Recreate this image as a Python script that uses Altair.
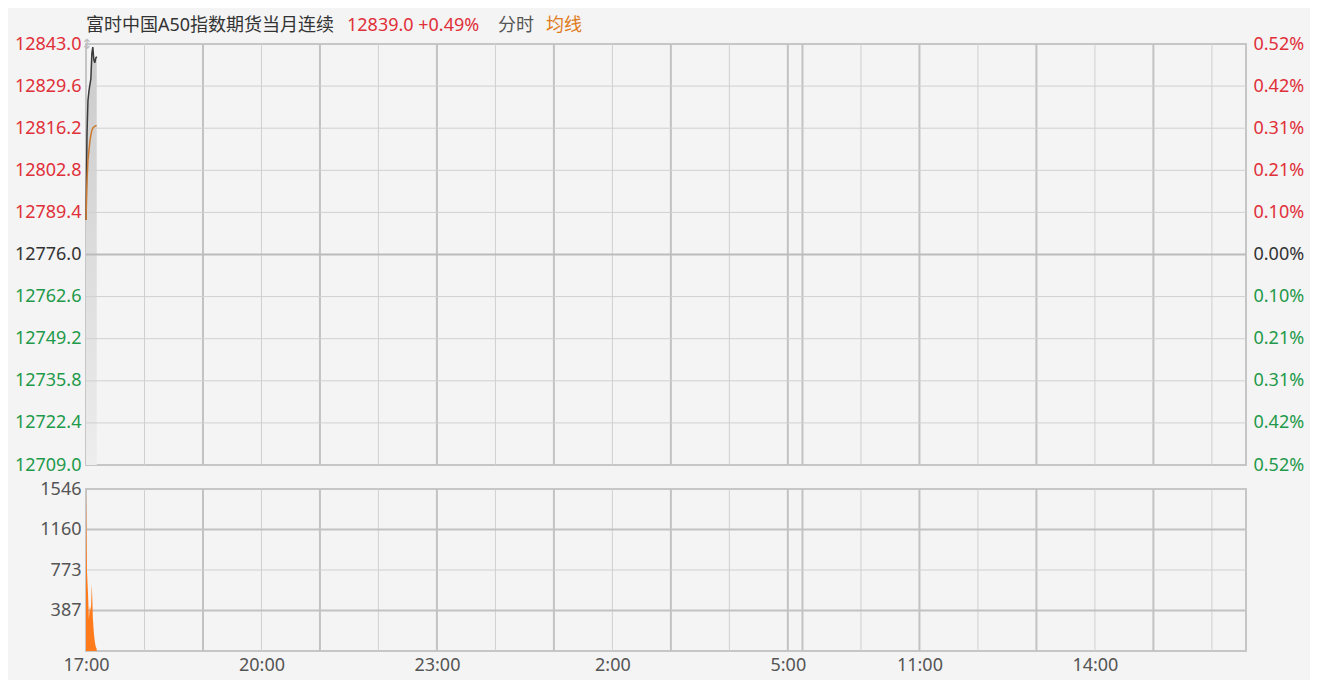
import altair as alt
import pandas as pd

# ---------------- data ----------------
PREV_CLOSE = 12776.0
SESSION_MINUTES = 1190          # 17:00-05:15 night + 09:00-16:35 day (trading minutes)

minutes = [0, 1, 2, 3, 4, 5, 6, 7, 8, 9, 10, 11]
price = [12787.0, 12814.0, 12825.0, 12828.0, 12830.0, 12832.0, 12840.0, 12842.0,
         12838.0, 12837.0, 12838.5, 12839.0]
avg_price = [12787.0, 12799.0, 12806.0, 12809.0, 12812.0, 12814.0, 12815.5, 12816.2,
             12816.6, 12816.8, 12817.0, 12817.0]
volume = [1546, 760, 560, 300, 430, 380, 640, 320, 180, 90, 40, 20]

price_ticks = [12709.0, 12722.4, 12735.8, 12749.2, 12762.6, 12776.0,
               12789.4, 12802.8, 12816.2, 12829.6, 12843.0]
vol_ticks = [387, 773, 1160, 1546]
vol_grid = [387, 773, 1160]

hour_nums = [18, 19, 20, 21, 22, 23, 0, 1, 2, 3, 4, 5, 9, 10, 11, 12, 13, 14, 15, 16]
hour_pos = [60, 120, 180, 240, 300, 360, 420, 480, 540, 600, 660, 720,
            735, 795, 855, 915, 975, 1035, 1095, 1155]

x_label_pos = [0, 180, 360, 540, 720, 855, 1035]
x_labels = ["17:00", "20:00", "23:00", "2:00", "5:00", "11:00", "14:00"]

title_name = "富时中国A50指数期货当月连续"
last_quote = "12839.0 +0.49%"
legend_time = "分时"
legend_avg = "均线"

# ---------------- styles ----------------
RED = "#e0303a"
GREEN = "#1f9a4a"
GRAY_TXT = "#555555"
FONT = "'Noto Sans', 'Noto Sans CJK SC', sans-serif"
THICK = "#c2c2c2"
THIN = "#d0d0d0"

df = pd.DataFrame({"t": minutes, "price": price, "avg": avg_price, "vol": volume})
vgrid = pd.DataFrame({
    "t": hour_pos,
    "w": [2 if h % 2 else 1 for h in hour_nums],
    "c": [THICK if h % 2 else THIN for h in hour_nums],
})
hgrid = pd.DataFrame({
    "p": price_ticks[1:-1],
    "w": [2 if p == PREV_CLOSE else 1 for p in price_ticks[1:-1]],
    "c": ["#bbbbbb" if p == PREV_CLOSE else THIN for p in price_ticks[1:-1]],
})
vhgrid = pd.DataFrame({
    "v": vol_grid,
    "w": [2 if i % 2 == 0 else 1 for i in range(len(vol_grid))],
    "c": [THICK if i % 2 == 0 else THIN for i in range(len(vol_grid))],
})

xscale = alt.Scale(domain=[0, SESSION_MINUTES], nice=False, zero=False)
yscale = alt.Scale(domain=[price_ticks[0], price_ticks[-1]], nice=False, zero=False)
vscale = alt.Scale(domain=[0, vol_ticks[-1]], nice=False, zero=True)

hi = PREV_CLOSE + 0.05
lo = PREV_CLOSE - 0.05
label_color = {
    "condition": [
        {"test": f"datum.value > {hi}", "value": RED},
        {"test": f"datum.value < {lo}", "value": GREEN},
    ],
    "value": "#333333",
}

left_axis = alt.Axis(orient="left", values=price_ticks, format=".1f", labelColor=label_color,
                     labelFontSize=18, labelFont=FONT, ticks=False, domain=False, grid=False,
                     labelPadding=5, title=None, labelOverlap=False)
right_axis = alt.Axis(orient="right", values=price_ticks,
                      labelExpr=f"format(abs(datum.value - {PREV_CLOSE}) / {PREV_CLOSE} * 100, '.2f') + '%'",
                      labelColor=label_color, labelFontSize=18, labelFont=FONT, ticks=False,
                      domain=False, grid=False, labelPadding=7, title=None, labelOverlap=False)

W = 1160
H1 = 421
H2 = 162

# ---------------- price panel ----------------
shade = alt.Chart(df).mark_area(
    color=alt.Gradient(gradient="linear",
                       stops=[alt.GradientStop(color="#cbcbcb", offset=0),
                              alt.GradientStop(color="#ededed", offset=1)],
                       x1=1, x2=1, y1=0, y2=1)
).encode(
    x=alt.X("t:Q", scale=xscale, axis=None),
    y=alt.Y("price:Q", scale=yscale, axis=None),
    y2=alt.datum(price_ticks[0]),
)

vrules1 = alt.Chart(vgrid).mark_rule().encode(
    x=alt.X("t:Q", scale=xscale, axis=None),
    strokeWidth=alt.StrokeWidth("w:Q", scale=None),
    color=alt.Color("c:N", scale=None),
)

hrules1 = alt.Chart(hgrid).mark_rule().encode(
    y=alt.Y("p:Q", scale=yscale, axis=left_axis),
    strokeWidth=alt.StrokeWidth("w:Q", scale=None),
    color=alt.Color("c:N", scale=None),
)

pline = alt.Chart(df).mark_line(color="#3a3a3a", strokeWidth=1.5).encode(
    x=alt.X("t:Q", scale=xscale, axis=None),
    y=alt.Y("price:Q", scale=yscale, axis=right_axis),
)

aline = alt.Chart(df).mark_line(color="#cc7a30", strokeWidth=1.5).encode(
    x=alt.X("t:Q", scale=xscale, axis=None),
    y=alt.Y("avg:Q", scale=yscale, axis=None),
)


def header(txt, color, xpos):
    return alt.Chart(pd.DataFrame({"s": [txt]})).mark_text(
        align="left", baseline="middle", fontSize=18, font=FONT, color=color
    ).encode(text="s:N", x=alt.value(xpos), y=alt.value(-18))


arrow = alt.Chart(pd.DataFrame({"s": ["↕"]})).mark_text(
    align="center", baseline="middle", fontSize=14, font="DejaVu Sans", color="#bdbdbd"
).encode(text="s:N", x=alt.value(1), y=alt.value(1))

top = alt.layer(
    shade, vrules1, hrules1, pline, aline,
    header(title_name, "#333333", 0),
    header(last_quote, RED, 261),
    header(legend_time, GRAY_TXT, 412),
    header(legend_avg, "#e07b20", 460),
    arrow,
).resolve_axis(y="independent").properties(width=W, height=H1)

# ---------------- volume panel ----------------
x_axis = alt.Axis(values=x_label_pos,
                  labelExpr=f"{x_labels}[indexof({x_label_pos}, datum.value)]",
                  labelFontSize=18, labelFont=FONT, labelColor=GRAY_TXT, ticks=False,
                  domain=False, grid=False, labelPadding=5, title=None, labelOverlap=False,
                  labelFlush=False)
vol_axis = alt.Axis(orient="left", values=vol_ticks, format="d", labelFontSize=18, labelFont=FONT,
                    labelColor=GRAY_TXT, ticks=False, domain=False, grid=False,
                    labelPadding=5, title=None, labelOverlap=False)

vrules2 = alt.Chart(vgrid).mark_rule().encode(
    x=alt.X("t:Q", scale=xscale, axis=None),
    strokeWidth=alt.StrokeWidth("w:Q", scale=None),
    color=alt.Color("c:N", scale=None),
)
hrules2 = alt.Chart(vhgrid).mark_rule().encode(
    y=alt.Y("v:Q", scale=vscale, axis=None),
    strokeWidth=alt.StrokeWidth("w:Q", scale=None),
    color=alt.Color("c:N", scale=None),
)
vol = alt.Chart(df).mark_area(color="#ff7a1a", opacity=1).encode(
    x=alt.X("t:Q", scale=xscale, axis=x_axis),
    y=alt.Y("vol:Q", scale=vscale, axis=vol_axis),
    y2=alt.datum(0),
)

bottom = alt.layer(vrules2, hrules2, vol).resolve_axis(
    x="independent", y="independent"
).properties(width=W, height=H2)

chart = alt.vconcat(top, bottom, spacing=24, bounds="flush").properties(
    padding={"left": 5, "top": 8, "right": 5, "bottom": 5}
).configure(background="#f4f4f4").configure_view(stroke="#c6c6c6", strokeWidth=2)

chart.save("out.html", embed_options={"renderer": "svg", "actions": False})
